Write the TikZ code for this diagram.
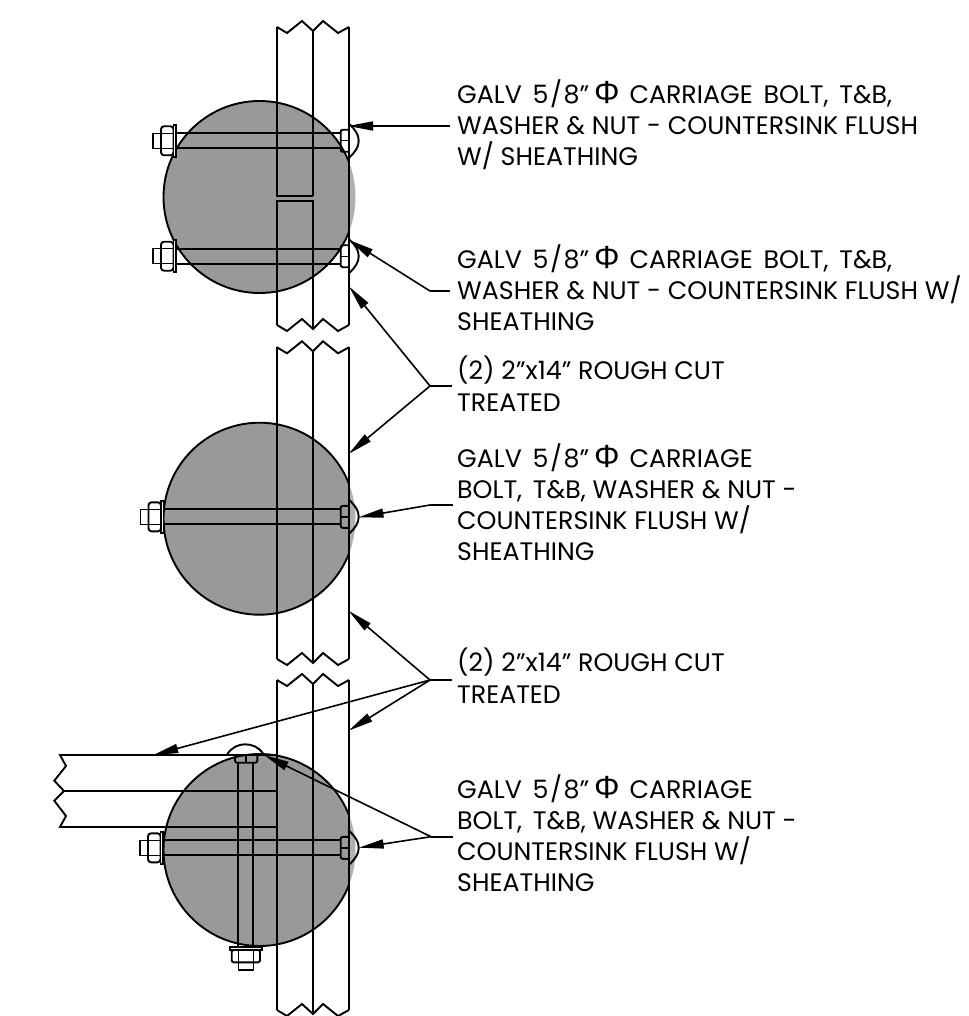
\documentclass[tikz,border=0pt]{standalone}
\usepackage{fontspec}
\setmainfont{Poppins}
\newfontfamily\phifont{Liberation Sans}
\newcommand{\dia}{\hspace{5pt}{\phifont\fontsize{32}{31.2}\selectfont Φ}\hspace{3pt}}
\newcommand{\fiveeighths}{\hspace{4pt}5\hspace{1.5pt}/\hspace{1.5pt}8"}
\usetikzlibrary{arrows.meta}
\tikzset{
  part/.style={draw=black,line width=1.9pt,line join=miter},
  thin part/.style={draw=black,line width=1.4pt},
  leader/.style={draw=black,line width=1.6pt},
  leadarrow/.style={leader,-{Triangle[length=25pt,width=9pt]}},
  note/.style={anchor=north west,inner sep=0pt,align=left,font=\fontsize{25.3}{31.2}\selectfont}
}
\definecolor{logfill}{HTML}{999999}
\definecolor{logedge}{HTML}{B0B0B0}
% log: centre y
\newcommand{\LogDisc}[1]{%
  \fill[logedge] (259.5,#1) circle [radius=96];
  \begin{scope}
    \clip (100,#1-110) rectangle (349,#1+110);
    \fill[logfill] (259.5,#1) circle [radius=96];
    \draw[part] (259.5,#1) circle [radius=96];
  \end{scope}
}
% horizontal bolt: washer left x, centre y
\newcommand{\HBolt}[2]{%
  \draw[thin part] (#1-20.5,#2-7.5) rectangle (#1-12.5,#2+7.5);
  \draw[part,fill=white,rounded corners=3pt] (#1-12.5,#2-14.5) rectangle (#1,#2+14.5);
  \draw[thin part] (#1-12.5,#2-7.5) -- (#1,#2-7.5) (#1-12.5,#2+7.5) -- (#1,#2+7.5);
  \draw[part,fill=white] (#1,#2-16) rectangle (#1+2.5,#2+16);
  \draw[part] (#1+2.5,#2-7.5) -- (340.7,#2-7.5) (#1+2.5,#2+7.5) -- (340.7,#2+7.5);
  \draw[part,rounded corners=2pt] (349,#2-11) -- (340.7,#2-11) -- (340.7,#2+11) -- (349,#2+11);
  \draw[thin part] (340.7,#2) -- (349,#2);
  \draw[part] (349,#2-17) .. controls (355.5,#2-11) and (358.7,#2-6) .. (358.7,#2)
     .. controls (358.7,#2+6) and (355.5,#2+11) .. (349,#2+17);
}
% post ends: y of the end's outer corner
\newcommand{\PostEnd}[1]{%
  \draw[part] (277,#1) -- (287,#1+6) -- (302,#1-6) -- (313,#1+4) -- (323,#1-6) -- (338,#1+6) -- (349,#1);
}
\begin{document}
\begin{tikzpicture}[x=1pt,y=-1pt]
\useasboundingbox (0,0) rectangle (968,1016);
\fill[white] (0,0) rectangle (968,1016);

% upper assembly
\LogDisc{197}
\HBolt{173.5}{140.8}
\HBolt{173.5}{256.2}
\draw[part] (277,27) -- (277,196) -- (313,196) (277,325) -- (277,201) -- (313,201) -- (313,329)
  (313,31) -- (313,196) (349,27) -- (349,325);
\PostEnd{27}
\PostEnd{325}

% middle assembly
\LogDisc{518.7}
\HBolt{161}{516.8}
\draw[part] (277,347.3) -- (277,659) (313,351.3) -- (313,663) (349,347.3) -- (349,659);
\PostEnd{347.3}
\PostEnd{659}

% lower assembly
\LogDisc{850}
\HBolt{160.5}{847.8}
\draw[part] (277,680) -- (277,1010) (313,684) -- (313,1014) (349,680) -- (349,1010);
\PostEnd{680}
\PostEnd{1010}
% beam
\draw[part] (277,755) -- (60,755) -- (66,766) -- (54.3,780.7) -- (64,791) -- (54.3,800.7) -- (66,816) -- (60,827) -- (277,827);
\draw[part] (64,791) -- (277,791);
% vertical bolt
\draw[part] (238.3,762.7) -- (238.3,946.7) (253.3,762.7) -- (253.3,946.7);
\draw[part,rounded corners=2pt] (235,755) -- (235,762.7) -- (257.3,762.7) -- (257.3,755);
\draw[thin part] (246,755) -- (246,762.7);
\draw[part] (227.3,754) .. controls (232,747) and (239,744.3) .. (245,744.3) .. controls (252,744.3) and (259,747) .. (263.3,754);
\draw[part,fill=white] (230,946.7) rectangle (261.7,950);
\draw[part,fill=white,rounded corners=2pt] (231.7,950) rectangle (260,962.3);
\draw[thin part] (238.3,950) -- (238.3,962.3) (253.3,950) -- (253.3,962.3);
\draw[thin part] (238.3,962.3) rectangle (253.3,970);

% notes
\node[note] (n1) at (457,79) {GALV \fiveeighths\dia{} CARRIAGE\hspace{4pt} BOLT,\hspace{4pt} T\&B,\\WASHER \& NUT - COUNTERSINK FLUSH\\W/ SHEATHING};
\node[note] (n2) at (457,244) {GALV \fiveeighths\dia{} CARRIAGE\hspace{4pt} BOLT,\hspace{4pt} T\&B,\\WASHER \& NUT - COUNTERSINK FLUSH W/\\SHEATHING};
\node[note] (n3) at (457,356) {(2) 2"x14" ROUGH CUT\\TREATED};
\node[note] (n4) at (457,443) {GALV \fiveeighths\dia{} CARRIAGE\\BOLT,\hspace{4pt} T\&B, WASHER \& NUT -\\COUNTERSINK FLUSH W/\\SHEATHING};
\node[note] (n5) at (457,648) {(2) 2"x14" ROUGH CUT\\TREATED};
\node[note] (n6) at (457,774) {GALV \fiveeighths\dia{} CARRIAGE\\BOLT,\hspace{4pt} T\&B, WASHER \& NUT -\\COUNTERSINK FLUSH W/\\SHEATHING};

% leader points
\coordinate (s1) at (450,126);
\coordinate (t1) at (348,126);
\coordinate (s2) at (450,291);
\coordinate (e2) at (430,291);
\coordinate (t2) at (349,240);
\coordinate (s3) at (452,386);
\coordinate (e3) at (430,386);
\coordinate (t3a) at (349,286.5);
\coordinate (t3b) at (348.5,454);
\coordinate (s4) at (453,505);
\coordinate (e4) at (430,505);
\coordinate (t4) at (358.5,517.3);
\coordinate (s5) at (452,680);
\coordinate (e5) at (430,680);
\coordinate (t5a) at (348.5,610.7);
\coordinate (t5b) at (348.5,730.7);
\coordinate (t5c) at (153.3,755);
\coordinate (s6) at (453,836.7);
\coordinate (e6) at (431,836.7);
\coordinate (t6a) at (358.7,847.7);
\coordinate (t6b) at (264,755);

\draw[leadarrow] (s1) -- (t1);
\draw[leader] (s2) -- (e2); \draw[leadarrow] (e2) -- (t2);
\draw[leader] (s3) -- (e3); \draw[leadarrow] (e3) -- (t3a); \draw[leadarrow] (e3) -- (t3b);
\draw[leader] (s4) -- (e4); \draw[leadarrow] (e4) -- (t4);
\draw[leader] (s5) -- (e5); \draw[leadarrow] (e5) -- (t5a); \draw[leadarrow] (e5) -- (t5b); \draw[leadarrow] (e5) -- (t5c);
\draw[leader] (s6) -- (e6); \draw[leadarrow] (e6) -- (t6a); \draw[leadarrow] (e6) -- (t6b);
\end{tikzpicture}
\end{document}
